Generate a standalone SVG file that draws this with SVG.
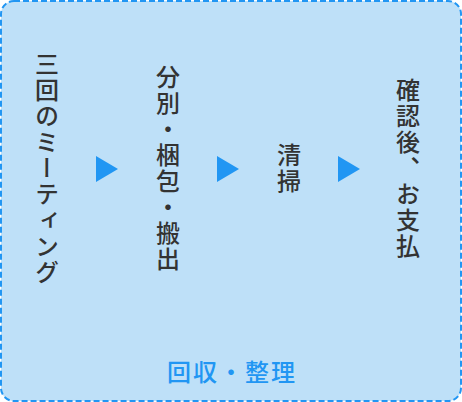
<svg xmlns="http://www.w3.org/2000/svg" width="462" height="402" viewBox="0 0 462 402">
<style>
.frame{fill:#bee0f8;stroke:#2196f3;stroke-width:2;stroke-dasharray:6 3}
.step{font-family:"Noto Sans CJK JP","Noto Sans",sans-serif;font-size:24px;font-weight:500;fill:#333333;writing-mode:vertical-rl;letter-spacing:2px}
.label{font-family:"Noto Sans CJK JP","Noto Sans",sans-serif;font-size:24px;fill:#2196f3;font-weight:500;letter-spacing:2px}
.arrow{fill:#2196f3}
</style>
<rect class="frame" x="1" y="1" width="460" height="400" rx="13" ry="13"/>
<g id="node-meeting"><text class="step" x="47" y="169" text-anchor="middle">三回のミーティング</text></g>
<g id="node-sort"><text class="step" x="168" y="169" text-anchor="middle">分別・梱包・搬出</text></g>
<g id="node-clean"><text class="step" x="289" y="169" text-anchor="middle">清掃</text></g>
<g id="node-pay"><text class="step" x="408" y="169" text-anchor="middle">確認後、お支払</text></g>
<g id="connectors">
<polygon class="arrow" points="96,156 96,182 118,169"/>
<polygon class="arrow" points="217,156 217,182 239,169"/>
<polygon class="arrow" points="338,156 338,182 360,169"/>
</g>
<g id="label"><text class="label" x="232" y="381" text-anchor="middle">回収・整理</text></g>
</svg>
